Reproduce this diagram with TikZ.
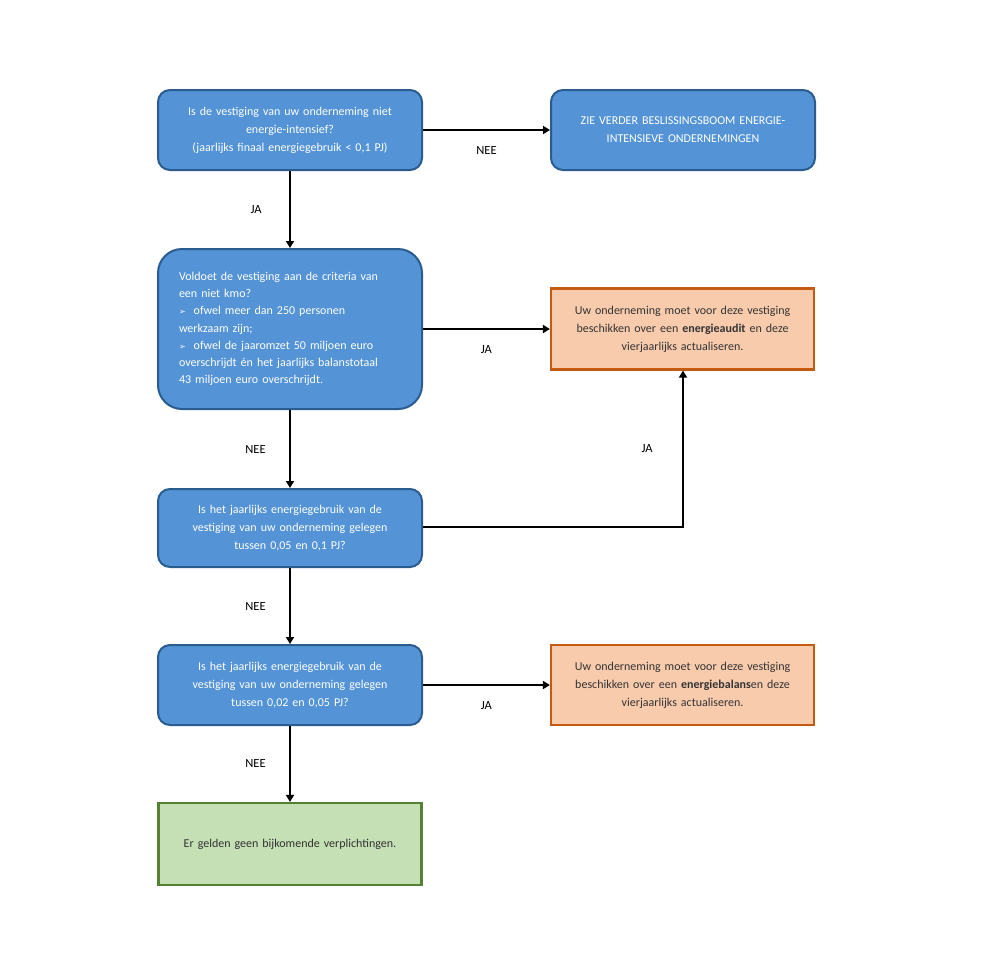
\documentclass[tikz,border=0pt]{standalone}
\usepackage{fontspec}
\setmainfont{Carlito}
\newfontfamily\symfont{DejaVu Sans}
\usetikzlibrary{arrows.meta}
\definecolor{bfill}{HTML}{5393D6}
\definecolor{bdraw}{HTML}{2B5C8F}
\definecolor{ofill}{HTML}{F8CBAD}
\definecolor{odraw}{HTML}{C55A11}
\definecolor{gfill}{HTML}{C5E0B4}
\definecolor{gdraw}{HTML}{548235}
\tikzset{
  qbox/.style={draw=bdraw, fill=bfill, line width=2pt, rounded corners=12pt, text=white, minimum width=264pt, minimum height=80pt, text width=250pt, align=center, font=\fontsize{12}{18}\selectfont, inner sep=0pt},
  obox/.style={draw=odraw, fill=ofill, line width=2.2pt, minimum width=263pt, minimum height=81pt, text width=250pt, align=center, text=black!80, font=\fontsize{12}{18}\selectfont, inner sep=0pt},
  gbox/.style={draw=gdraw, fill=gfill, line width=2.2pt, minimum width=263pt, minimum height=82pt, text width=250pt, align=center, text=black!80, font=\fontsize{12}{18}\selectfont, inner sep=0pt},
  conn/.style={draw=black, line width=2pt, -{Triangle[length=7pt,width=8pt]}},
  lbl/.style={font=\fontsize{12.5}{14}\selectfont, text=black}
}
\newcommand\arrbul{{\symfont\fontsize{8}{17}\selectfont ➢}\ \ }
\begin{document}
\begin{tikzpicture}[x=1pt,y=-1pt]
\useasboundingbox (0,0) rectangle (992,975);
\fill[white] (0,0) rectangle (992,975);
\node[qbox] (q1) at (290,130) {Is de vestiging van uw onderneming niet\\energie-intensief?\\(jaarlijks finaal energiegebruik < 0,1 PJ)};
\node[qbox] (z) at (683,130) {ZIE VERDER BESLISSINGSBOOM ENERGIE-\\INTENSIEVE ONDERNEMINGEN};
\node[qbox, minimum height=160pt, rounded corners=24pt, align=left, text width=222pt, font=\fontsize{12}{17.2}\selectfont] (q2) at (290,329) {Voldoet de vestiging aan de criteria van\\een niet kmo?\\\arrbul ofwel meer dan 250 personen\\werkzaam zijn;\\\arrbul ofwel de jaaromzet 50 miljoen euro\\overschrijdt én het jaarlijks balanstotaal\\43 miljoen euro overschrijdt.};
\node[obox] (a1) at (682.5,329) {Uw onderneming moet voor deze vestiging\\beschikken over een \textbf{energieaudit} en deze\\vierjaarlijks actualiseren.};
\node[qbox, minimum height=78pt] (q3) at (290,528) {Is het jaarlijks energiegebruik van de\\vestiging van uw onderneming gelegen\\tussen 0,05 en 0,1 PJ?};
\node[qbox] (q4) at (290,685) {Is het jaarlijks energiegebruik van de\\vestiging van uw onderneming gelegen\\tussen 0,02 en 0,05 PJ?};
\node[obox, minimum height=80pt] (a2) at (682.5,685) {Uw onderneming moet voor deze vestiging\\beschikken over een \textbf{energiebalans}en deze\\vierjaarlijks actualiseren.};
\node[gbox] (g) at (290,844) {Er gelden geen bijkomende verplichtingen.};
\coordinate (k) at (683,527);
\draw[conn] (q1) -- node[lbl, below=12pt] {NEE} (z);
\draw[conn] (q1) -- node[lbl, left=24pt] {JA} (q2);
\draw[conn] (q2) -- node[lbl, below=12pt] {JA} (a1);
\draw[conn] (q2) -- node[lbl, left=20pt] {NEE} (q3);
\draw[conn] (q3.east |- k) -- (k) -- node[lbl, left=26pt, pos=0.5] {JA} (a1.south -| k);
\draw[conn] (q3) -- node[lbl, left=20pt] {NEE} (q4);
\draw[conn] (q4) -- node[lbl, below=12pt] {JA} (a2);
\draw[conn] (q4) -- node[lbl, left=20pt] {NEE} (g);
\end{tikzpicture}
\end{document}
